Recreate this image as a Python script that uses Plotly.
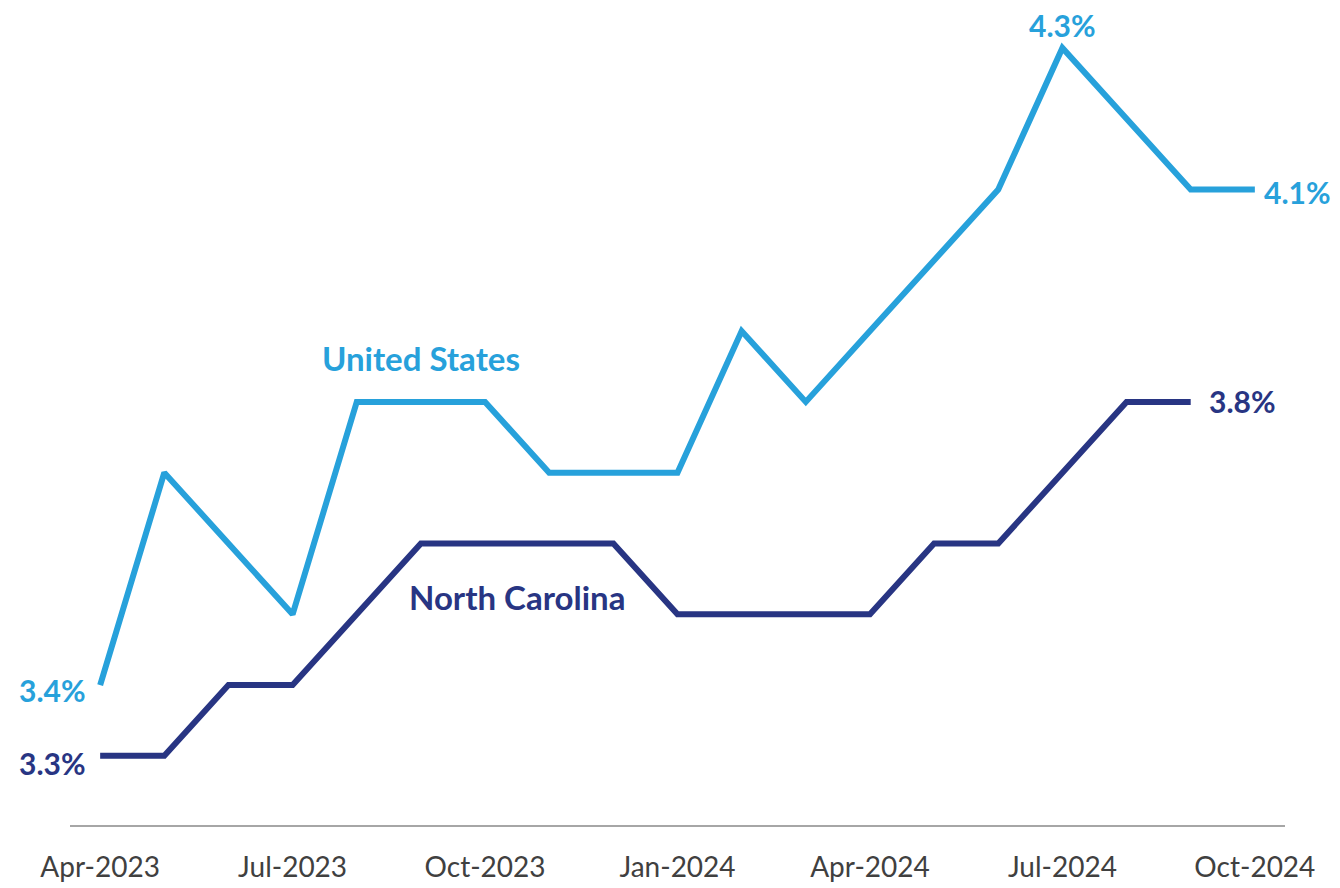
import plotly.graph_objects as go

months = ["Apr-2023", "May-2023", "Jun-2023", "Jul-2023", "Aug-2023", "Sep-2023",
          "Oct-2023", "Nov-2023", "Dec-2023", "Jan-2024", "Feb-2024", "Mar-2024",
          "Apr-2024", "May-2024", "Jun-2024", "Jul-2024", "Aug-2024", "Sep-2024",
          "Oct-2024"]
us_rate = [3.4, 3.7, 3.6, 3.5, 3.8, 3.8, 3.8, 3.7, 3.7, 3.7, 3.9, 3.8,
           3.9, 4.0, 4.1, 4.3, 4.2, 4.1, 4.1]
nc_rate = [3.3, 3.3, 3.4, 3.4, 3.5, 3.6, 3.6, 3.6, 3.6, 3.5, 3.5, 3.5,
           3.5, 3.6, 3.6, 3.7, 3.8, 3.8]
tick_labels = ["Apr-2023", "Jul-2023", "Oct-2023", "Jan-2024", "Apr-2024", "Jul-2024", "Oct-2024"]

US_COLOR = "#27A1DB"
NC_COLOR = "#283583"
FONT = "Lato"

x_us = list(range(len(us_rate)))
x_nc = list(range(len(nc_rate)))
tickvals = [months.index(t) for t in tick_labels]

fig = go.Figure()
fig.add_trace(go.Scatter(x=x_us, y=us_rate, mode="lines", name="United States",
                         line=dict(color=US_COLOR, width=6)))
fig.add_trace(go.Scatter(x=x_nc, y=nc_rate, mode="lines", name="North Carolina",
                         line=dict(color=NC_COLOR, width=6)))

lab_font = lambda c, s=30: dict(family=FONT, size=s, color=c, weight="bold")
ann = [
    dict(x=x_us[0], y=us_rate[0], text=f"{us_rate[0]:.1f}%", xanchor="right", yanchor="middle",
         xshift=-12, yshift=-5, font=lab_font(US_COLOR)),
    dict(x=x_nc[0], y=nc_rate[0], text=f"{nc_rate[0]:.1f}%", xanchor="right", yanchor="middle",
         xshift=-12, yshift=-7, font=lab_font(NC_COLOR)),
    dict(x=us_rate.index(max(us_rate)), y=max(us_rate), text=f"{max(us_rate):.1f}%",
         xanchor="center", yanchor="bottom", yshift=4, font=lab_font(US_COLOR),
         borderpad=0),
    dict(x=x_us[-1], y=us_rate[-1], text=f"{us_rate[-1]:.1f}%", xanchor="left", yanchor="middle",
         xshift=8, yshift=-2, font=lab_font(US_COLOR), borderpad=0),
    dict(x=x_nc[-1], y=nc_rate[-1], text=f"{nc_rate[-1]:.1f}%", xanchor="left", yanchor="middle",
         xshift=16, yshift=1, font=lab_font(NC_COLOR)),
    dict(x=5, y=3.862, text="United States", xanchor="center", yanchor="middle",
         font=lab_font(US_COLOR, 33)),
    dict(x=6.5, y=3.524, text="North Carolina", xanchor="center", yanchor="middle",
         font=lab_font(NC_COLOR, 33)),
]
for a in ann:
    a.update(xref="x", yref="y", showarrow=False)

fig.update_layout(
    width=1340, height=888,
    margin=dict(l=62, r=63, t=12, b=71),
    paper_bgcolor="white", plot_bgcolor="white",
    showlegend=False,
    annotations=ann,
    xaxis=dict(range=[-0.47, 18.47], tickvals=tickvals, ticktext=tick_labels,
               showgrid=False, zeroline=False, showline=True, linecolor="#A6A6A6",
               linewidth=1.5, ticks="", ticklabelstandoff=17,
               tickfont=dict(family=FONT, size=28, color="#404040")),
    yaxis=dict(range=[3.2023, 4.3395], visible=False, showgrid=False, zeroline=False),
)

fig.write_html("out.html", config={"displayModeBar": False})
